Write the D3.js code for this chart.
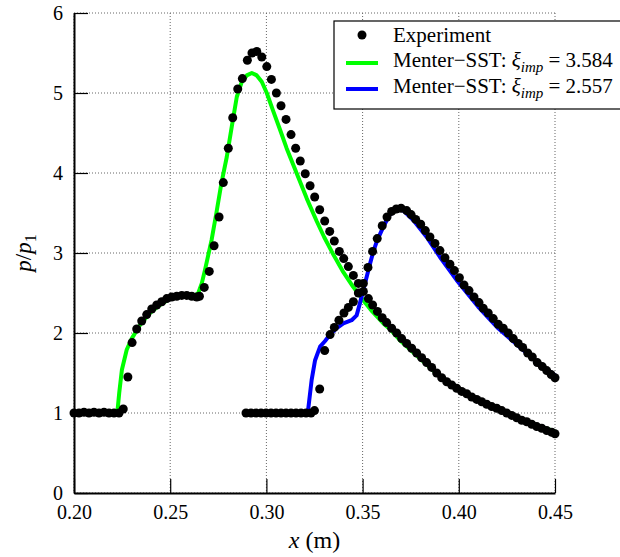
<!DOCTYPE html>
<html>
<head>
<meta charset="utf-8">
<script src="https://cdn.jsdelivr.net/npm/d3@7"></script>
<style>
  html, body { margin: 0; padding: 0; background: #fff; }
  svg { display: block; }
  text { font-family: "Liberation Serif", "Times New Roman", serif; fill: #000; }
</style>
</head>
<body>
<svg id="chart" width="620" height="557"></svg>
<script>
// ---------- data ----------
const xTicks = [0.20, 0.25, 0.30, 0.35, 0.40, 0.45];
const yTicks = [0, 1, 2, 3, 4, 5, 6];

// Experiment, case xi_imp = 3.584
const expAx = [0.2000,0.2026,0.2052,0.2078,0.2104,0.2130,0.2156,0.2182,0.2208,0.2234,0.2256,0.2280,0.2302,0.2326,0.2352,0.2378,0.2404,0.2430,0.2456,0.2482,0.2508,0.2534,0.2560,0.2586,0.2612,0.2638,0.2652,0.2677,0.2703,0.2728,0.2754,0.2776,0.2802,0.2825,0.2851,0.2875,0.2901,0.2925,0.2950,0.2976,0.3002,0.3026,0.3052,0.3076,0.3102,0.3128,0.3152,0.3176,0.3202,0.3227,0.3251,0.3277,0.3303,0.3329,0.3353,0.3379,0.3402,0.3426,0.3452,0.3478,0.3504,0.3530,0.3552,0.3577,0.3602,0.3625,0.3651,0.3677,0.3703,0.3729,0.3755,0.3781,0.3807,0.3833,0.3859,0.3885,0.3911,0.3937,0.3963,0.3989,0.4015,0.4041,0.4067,0.4093,0.4119,0.4145,0.4171,0.4197,0.4223,0.4249,0.4275,0.4301,0.4327,0.4353,0.4379,0.4405,0.4431,0.4457,0.4483,0.4500];
const expAy = [1.00,1.00,1.01,1.00,1.01,1.00,1.01,1.00,1.00,1.00,1.05,1.45,1.88,2.05,2.15,2.23,2.30,2.35,2.39,2.43,2.45,2.46,2.47,2.47,2.46,2.45,2.46,2.57,2.77,3.09,3.45,3.88,4.31,4.69,5.05,5.18,5.41,5.50,5.52,5.45,5.33,5.17,5.00,4.84,4.67,4.48,4.31,4.15,3.99,3.84,3.70,3.54,3.40,3.27,3.15,3.02,2.93,2.83,2.72,2.62,2.52,2.43,2.35,2.27,2.19,2.13,2.06,2.00,1.93,1.87,1.81,1.75,1.69,1.63,1.57,1.50,1.44,1.39,1.35,1.31,1.27,1.24,1.20,1.17,1.14,1.11,1.08,1.06,1.03,1.00,0.97,0.94,0.91,0.89,0.86,0.83,0.81,0.78,0.76,0.74];

// Experiment, case xi_imp = 2.557
const expBx = [0.2894,0.2920,0.2946,0.2972,0.2998,0.3024,0.3050,0.3076,0.3102,0.3128,0.3154,0.3180,0.3206,0.3232,0.3250,0.3277,0.3303,0.3331,0.3353,0.3377,0.3403,0.3426,0.3452,0.3478,0.3504,0.3528,0.3552,0.3576,0.3602,0.3627,0.3651,0.3675,0.3700,0.3729,0.3752,0.3776,0.3802,0.3826,0.3850,0.3876,0.3902,0.3928,0.3954,0.3977,0.4003,0.4027,0.4053,0.4079,0.4105,0.4127,0.4153,0.4179,0.4205,0.4231,0.4257,0.4283,0.4309,0.4332,0.4358,0.4382,0.4408,0.4434,0.4457,0.4480,0.4500];
const expBy = [1.00,1.00,1.00,1.00,1.00,1.00,1.00,1.00,1.00,1.00,1.00,1.00,1.00,1.00,1.03,1.30,1.78,1.98,2.07,2.16,2.25,2.32,2.39,2.50,2.62,2.82,3.02,3.18,3.34,3.45,3.52,3.55,3.56,3.53,3.48,3.42,3.36,3.28,3.20,3.12,3.03,2.94,2.86,2.78,2.69,2.60,2.53,2.45,2.38,2.31,2.25,2.18,2.11,2.06,2.00,1.93,1.87,1.82,1.75,1.70,1.63,1.58,1.53,1.48,1.44];

// Menter-SST, xi_imp = 3.584 (green)
const sstAx = [0.2000,0.2225,0.2235,0.2249,0.2274,0.2300,0.2343,0.2395,0.2447,0.2499,0.2551,0.2603,0.2629,0.2646,0.2664,0.2680,0.2715,0.2740,0.2766,0.2794,0.2820,0.2846,0.2872,0.2898,0.2924,0.2950,0.2976,0.3002,0.3036,0.3071,0.3105,0.3140,0.3175,0.3210,0.3261,0.3300,0.3348,0.3400,0.3450,0.3500,0.3550,0.3608,0.3650,0.3694,0.3781,0.3868,0.3954,0.4041,0.4130,0.4214,0.4300,0.4387,0.4450,0.4500];
const sstAy = [1.00,1.00,1.25,1.54,1.79,1.93,2.10,2.25,2.35,2.43,2.475,2.48,2.47,2.50,2.62,2.78,3.16,3.50,3.87,4.20,4.58,4.95,5.14,5.22,5.25,5.22,5.14,5.00,4.77,4.54,4.31,4.10,3.89,3.68,3.40,3.20,2.98,2.76,2.58,2.42,2.27,2.12,2.03,1.91,1.72,1.53,1.37,1.23,1.12,1.03,0.94,0.86,0.81,0.77];

// Menter-SST, xi_imp = 2.557 (blue)
const sstBx = [0.2894,0.3215,0.3235,0.3253,0.3279,0.3305,0.3331,0.3360,0.3400,0.3443,0.3469,0.3486,0.3504,0.3521,0.3539,0.3556,0.3573,0.3608,0.3642,0.3677,0.3712,0.3764,0.3833,0.3902,0.3989,0.4100,0.4200,0.4300,0.4400,0.4500];
const sstBy = [1.00,1.00,1.41,1.66,1.83,1.90,1.98,2.05,2.12,2.16,2.22,2.37,2.54,2.70,2.87,3.02,3.14,3.33,3.48,3.55,3.53,3.41,3.20,2.95,2.66,2.33,2.07,1.86,1.65,1.47];

const legendLabels = ["Experiment", "Menter\u2212SST: ", "Menter\u2212SST: "];
const legendValues = ["", "3.584", "2.557"];
const legendColors = ["#000000", "#00ff00", "#0000ff"];

// ---------- drawing ----------
(function () {
const svg = d3.select("#chart");
const pL = 74, pR = 555, pT = 13, pB = 493;
const x = d3.scaleLinear().domain([0.20, 0.45]).range([pL, pR]);
const y = d3.scaleLinear().domain([0, 6]).range([pB, pT]);

// grid
const grid = svg.append("g");
grid.selectAll("line.v").data(xTicks).join("line")
  .attr("x1", d => x(d)).attr("x2", d => x(d))
  .attr("y1", pT).attr("y2", pB)
  .attr("stroke", "#666").attr("stroke-width", 1).attr("stroke-dasharray", "1,2");
grid.selectAll("line.h").data(yTicks).join("line")
  .attr("x1", pL).attr("x2", pR)
  .attr("y1", d => y(d)).attr("y2", d => y(d))
  .attr("stroke", "#666").attr("stroke-width", 1).attr("stroke-dasharray", "1,2");

// axes
const xAxis = d3.axisBottom(x).tickValues(xTicks).tickFormat(d3.format(".2f"))
  .tickSizeInner(-14).tickSizeOuter(0).tickPadding(12);
const yAxis = d3.axisLeft(y).tickValues(yTicks).tickFormat(d3.format("d"))
  .tickSizeInner(-14).tickSizeOuter(0).tickPadding(11);

const gx = svg.append("g").attr("transform", `translate(0,${pB})`).call(xAxis);
const gy = svg.append("g").attr("transform", `translate(${pL},0)`).call(yAxis);
[gx, gy].forEach(g => {
  g.select(".domain").attr("stroke", "#000").attr("stroke-width", 2);
  g.selectAll(".tick line").attr("stroke", "#000").attr("stroke-width", 1.2);
  g.selectAll(".tick text")
    .style("font-family", '"Liberation Serif", "Times New Roman", serif')
    .style("font-size", "20px").attr("fill", "#000");
});

// curves
const line = d3.line().x(d => x(d[0])).y(d => y(d[1]));
const zip = (a, b) => a.map((v, i) => [v, b[i]]);
svg.append("path").datum(zip(sstAx, sstAy))
  .attr("d", line).attr("fill", "none").attr("stroke", legendColors[1])
  .attr("stroke-width", 4).attr("stroke-linejoin", "round");
svg.append("path").datum(zip(sstBx, sstBy))
  .attr("d", line).attr("fill", "none").attr("stroke", legendColors[2])
  .attr("stroke-width", 4).attr("stroke-linejoin", "round");

// experiment points
const expPts = zip(expAx, expAy).concat(zip(expBx, expBy));
svg.append("g").selectAll("circle").data(expPts).join("circle")
  .attr("cx", d => x(d[0])).attr("cy", d => y(d[1])).attr("r", 4.5)
  .attr("fill", "#000");

// axis labels
svg.append("text").attr("x", (pL + pR) / 2).attr("y", 548)
  .attr("text-anchor", "middle").style("font-size", "24px")
  .call(t => {
    t.append("tspan").attr("font-style", "italic").text("x");
    t.append("tspan").text(" (m)");
  });
svg.append("text")
  .attr("transform", `translate(31,${(pT + pB) / 2}) rotate(-90)`)
  .attr("text-anchor", "middle").style("font-size", "23px")
  .call(t => {
    t.append("tspan").attr("font-style", "italic").text("p");
    t.append("tspan").text("/");
    t.append("tspan").attr("font-style", "italic").text("p");
    t.append("tspan").attr("dy", 5).style("font-size", "16px").text("1");
  });

// legend
const lg = svg.append("g");
lg.append("rect").attr("x", 334).attr("y", 21).attr("width", 300).attr("height", 88)
  .attr("fill", "#fff").attr("stroke", "#000").attr("stroke-width", 1.2);
const rows = [42, 67, 93];
lg.append("circle").attr("cx", 362).attr("cy", 35).attr("r", 4.5).attr("fill", "#000");
lg.append("line").attr("x1", 346).attr("x2", 378).attr("y1", 63).attr("y2", 63)
  .attr("stroke", legendColors[1]).attr("stroke-width", 4);
lg.append("line").attr("x1", 346).attr("x2", 378).attr("y1", 89).attr("y2", 89)
  .attr("stroke", legendColors[2]).attr("stroke-width", 4);
legendLabels.forEach((lab, i) => {
  const t = lg.append("text").attr("x", 393).attr("y", rows[i]).style("font-size", "21px");
  t.append("tspan").text(lab);
  if (legendValues[i]) {
    t.append("tspan").attr("font-style", "italic").text("\u03BE");
    t.append("tspan").attr("font-style", "italic").attr("dy", 5).style("font-size", "15px").text("imp");
    t.append("tspan").attr("dy", -5).text(" = " + legendValues[i]);
  }
});
})();
</script>
</body>
</html>
